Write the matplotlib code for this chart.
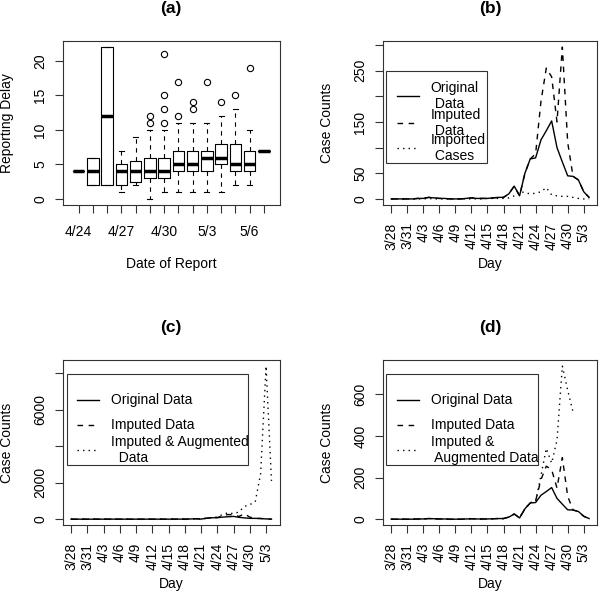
import matplotlib

matplotlib.use("Agg")
import matplotlib.pyplot as plt
import numpy as np

plt.rcParams["font.family"] = ["Liberation Sans", "DejaVu Sans"]
plt.rcParams["font.size"] = 10

# (a) reporting delay by date of report
report_dates = ["4/24", "", "", "4/27", "", "", "4/30", "", "", "5/3", "", "", "5/6", ""]
delay_med = [4, 4, 12, 4, 4, 4, 4, 5, 5, 6, 6, 5, 5, 7]
delay_q1 = [4, 2, 2, 2, 2.5, 3, 3, 4, 4, 4, 5, 4, 4, 7]
delay_q3 = [4, 6, 22, 5, 5.5, 6, 6, 7, 7, 7, 8, 8, 7, 7]
delay_lo = [4, 2, 2, 1, 2, 0, 1, 1, 1, 1, 1, 2, 2, 7]
delay_hi = [4, 6, 22, 7, 9, 10, 10, 11, 11, 11, 12, 13, 10, 7]
delay_out = [[], [], [], [], [], [11, 12], [11, 13, 15, 21], [12, 17], [13, 14], [17], [14], [15], [19], []]

# (b)-(d) daily case counts from 3/28 onwards
day_labels = ["3/28", "3/31", "4/3", "4/6", "4/9", "4/12", "4/15", "4/18", "4/21", "4/24", "4/27", "4/30", "5/3"]
original = [0, 0, 0, 0, 0, 1, 1, 3, 2, 1, 1, 0, 0, 0, 1, 2, 1, 1, 1, 2,
            3, 3, 10, 25, 6, 50, 78, 80, 115, 133, 152, 100, 72, 45, 44, 37, 14, 3]
imputed = [0, 0, 0, 0, 0, 1, 1, 3, 2, 1, 1, 0, 0, 0, 1, 2, 1, 1, 1, 2,
           3, 3, 10, 25, 6, 50, 78, 88, 190, 255, 238, 150, 296, 110, 44, 37, 14, 3]
imported = [0, 0, 0, 0, 0, 0, 0, 1, 0, 0, 0, 0, 0, 0, 0, 0, 0, 0, 1, 1,
            1, 1, 2, 6, 15, 12, 10, 11, 14, 22, 8, 6, 5, 5, 3, 1, 0, 0]
augmented_c = [0, 0, 0, 0, 0, 1, 1, 3, 2, 1, 1, 0, 0, 0, 1, 2, 1, 1, 1, 2,
               3, 3, 10, 25, 6, 55, 90, 120, 260, 350, 300, 400, 700, 800, 950, 2500, 8400, 2100]
augmented_d = [0, 0, 0, 0, 0, 1, 1, 3, 2, 1, 1, 0, 0, 0, 1, 2, 1, 1, 1, 2,
               3, 3, 10, 25, 6, 50, 80, 85, 210, 340, 270, 380, 736, 620, 515]

W, H = 600, 592
fig = plt.figure(figsize=(W / 100, H / 100), dpi=100)

DASHED = (0, (4, 4))
DOTTED = (0, (1, 3))


def px_axes(left, top, right, bottom):
    return fig.add_axes([left / W, 1 - bottom / H, (right - left) / W, (bottom - top) / H])


def r_style(ax, title, xlabel, ylabel):
    w_px = ax.get_position().width * W
    h_px = ax.get_position().height * H
    for spine in ax.spines.values():
        spine.set_linewidth(0.8)
        spine.set_color("0.2")
    ax.tick_params(direction="out", length=5.5, width=0.8, color="0.2")
    ax.tick_params(axis="y", pad=11)
    plt.setp(ax.get_yticklabels(), rotation=90, ha="center", va="center")
    ax.text(0.5, 1 + 33 / h_px, title, transform=ax.transAxes, ha="center", va="center",
            fontsize=12.5, fontweight="bold")
    ax.set_xlabel(xlabel)
    ax.xaxis.set_label_coords(0.5, -59 / h_px)
    ax.xaxis.label.set_va("center")
    ax.set_ylabel(ylabel)
    ax.yaxis.set_label_coords(-56 / w_px, 0.5)
    ax.yaxis.label.set_va("center")


def r_legend(ax, box, rows, labels, styles):
    # R-style legend: wrapped labels are allowed to crowd each other
    x0, y0, x1, y1 = box
    ax.add_patch(plt.Rectangle((x0, y0), x1 - x0, y1 - y0, transform=ax.transAxes,
                               facecolor="white", edgecolor="0.2", lw=0.8, zorder=5))
    for y, label, ls in zip(rows, labels, styles):
        ax.plot([0.063, 0.168], [y, y], transform=ax.transAxes, color="black", ls=ls, lw=1, zorder=6)
        ax.text(0.221, y, label, transform=ax.transAxes, ha="left", va="center", zorder=6)


def day_axis(ax, ticks):
    ax.set_xticks(np.arange(0, 3 * len(ticks), 3))
    ax.set_xticklabels(ticks, rotation=90)
    ax.tick_params(axis="x", pad=7)
    ax.margins(0.04)


# (a)
ax = px_axes(63, 41, 279.5, 205)
stats = [
    dict(med=m, q1=a, q3=b, whislo=lo, whishi=hi, fliers=f)
    for m, a, b, lo, hi, f in zip(delay_med, delay_q1, delay_q3, delay_lo, delay_hi, delay_out)
]
ax.bxp(
    stats,
    positions=np.arange(1, len(stats) + 1),
    widths=0.8,
    capwidths=0.35,
    manage_ticks=False,
    boxprops=dict(color="black", lw=0.8),
    medianprops=dict(color="black", lw=2.5, solid_capstyle="butt"),
    whiskerprops=dict(color="black", lw=0.8, linestyle=DASHED),
    capprops=dict(color="black", lw=0.8),
    flierprops=dict(marker="o", markerfacecolor="none", markeredgecolor="black", markersize=4.5,
                    markeredgewidth=0.8),
)
ax.set_xticks(np.arange(1, len(stats) + 1))
ax.set_xticklabels(report_dates)
ax.tick_params(axis="x", pad=9)
ax.set_xlim(-0.1, len(stats) + 1.1)
ax.set_yticks([0, 5, 10, 15, 20])
ax.margins(y=0.04)
r_style(ax, "(a)", "Date of Report", "Reporting Delay")

# (b)
ax = px_axes(383.3, 41, 597, 205)
ax.plot(np.arange(len(original)), original, color="black", lw=1)
ax.plot(np.arange(len(imputed)), imputed, color="black", lw=1, ls=DASHED)
ax.plot(np.arange(len(imported)), imported, color="black", lw=1, ls=DOTTED)
day_axis(ax, day_labels)
ax.set_yticks([0, 50, 100, 150, 200, 250, 300])
ax.set_yticklabels(["0", "50", "", "150", "", "250", ""])
r_style(ax, "(b)", "Day", "Case Counts")
r_legend(ax, (0.013, 0.258, 0.487, 0.819), [0.663, 0.5, 0.348],
         ["Original\n Data", "Imputed\n Data", "Imported\n Cases"], ["-", DASHED, DOTTED])

# (c)
ax = px_axes(63, 360, 279.5, 525.3)
ax.plot(np.arange(len(original)), original, color="black", lw=1)
ax.plot(np.arange(len(imputed)), imputed, color="black", lw=1, ls=DASHED)
ax.plot(np.arange(len(augmented_c)), augmented_c, color="black", lw=1, ls=DOTTED)
day_axis(ax, day_labels)
ax.set_yticks([0, 2000, 4000, 6000, 8000])
ax.set_yticklabels(["0", "2000", "", "6000", ""])
r_style(ax, "(c)", "Day", "Case Counts")
r_legend(ax, (0.017, 0.363, 0.853, 0.917), [0.758, 0.607, 0.456],
         ["Original Data", "Imputed Data", "Imputed & Augmented\n  Data"], ["-", DASHED, DOTTED])

# (d)
ax = px_axes(383.3, 360, 597, 525.3)
ax.plot(np.arange(len(original)), original, color="black", lw=1)
ax.plot(np.arange(len(imputed)), imputed, color="black", lw=1, ls=DASHED)
ax.plot(np.arange(len(augmented_d)), augmented_d, color="black", lw=1, ls=DOTTED)
day_axis(ax, day_labels)
ax.set_yticks([0, 200, 400, 600])
r_style(ax, "(d)", "Day", "Case Counts")
r_legend(ax, (0.013, 0.363, 0.722, 0.917), [0.758, 0.607, 0.456],
         ["Original Data", "Imputed Data", "Imputed &\n Augmented Data"], ["-", DASHED, DOTTED])

fig.savefig("out.png", dpi=100)
